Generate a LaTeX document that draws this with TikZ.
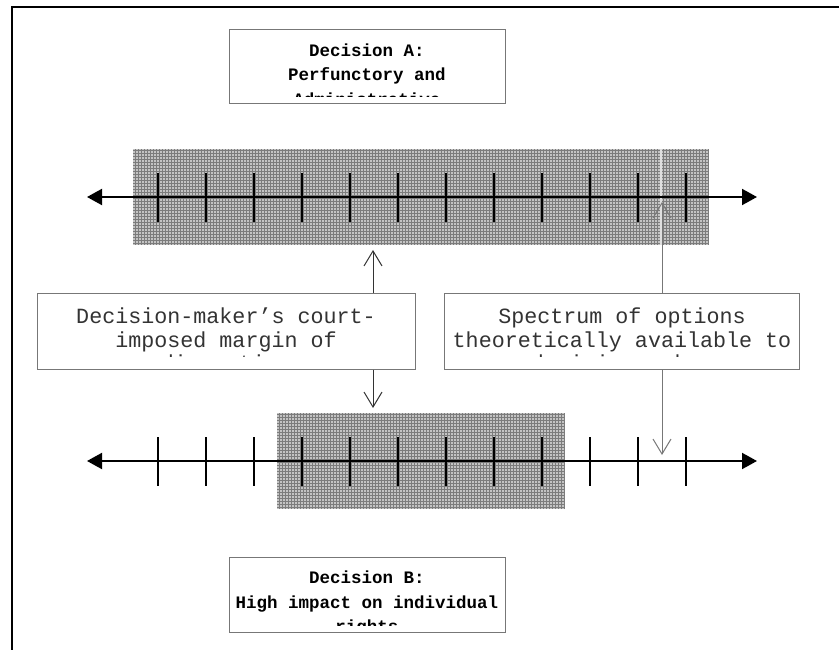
\documentclass[tikz,border=0pt]{standalone}
\usepackage{fontspec}
\setmonofont{Liberation Mono}
\usetikzlibrary{arrows.meta}

\definecolor{boxgray}{HTML}{777777}
\definecolor{textgray}{HTML}{333333}
\definecolor{shadefill}{HTML}{C4C4C4}
\definecolor{shadeline}{HTML}{7C7C7C}

\tikzset{
  frame/.style = {line width = 2.5pt, black},
  panel/.style = {draw = boxgray, line width = 1pt, fill = white, inner sep = 0pt},
  titletext/.style = {font = \ttfamily\bfseries\fontsize{17.5}{24.5}\selectfont, align = center, inner sep = 0pt, anchor = base},
  notetext/.style = {font = \ttfamily\fontsize{21.7}{23.5}\selectfont, text = textgray, align = center, inner sep = 0pt, anchor = base},
  shade/.style = {fill = shadefill},
  gridline/.style = {draw = shadeline, line width = .55pt},
  axis/.style = {line width = 2pt, {Triangle[length=15pt,width=16pt]}-{Triangle[length=15pt,width=16pt]}},
  tick/.style = {line width = 2pt},
  pointer/.style = {line width = 1pt, -{Straight Barb[length=15pt,width=18pt,line width=1pt]}}
}

\begin{document}
\begin{tikzpicture}[x = 1pt, y = -1pt]
  \useasboundingbox (0,0) rectangle (839,650);

  % frame
  \draw[frame] (12,650) -- (12,7) -- (839,7);

  % shaded margins
  \fill[shade] (133,149) rectangle (709,245);
  \draw[gridline, step = 3pt] (133,149) grid (709,245);
  \draw[white!75!gray, line width = 1.2pt] (661,149) -- (661,245);
  \fill[shade] (277,413) rectangle (565,509);
  \draw[gridline, step = 3pt] (277,413) grid (565,509);

  % option lines
  \coordinate (upw) at (87,197);
  \coordinate (upe) at (757,197);
  \coordinate (loww) at (87,461);
  \coordinate (lowe) at (757,461);
  \draw[axis] (upw) -- (upe);
  \draw[axis] (loww) -- (lowe);
  \foreach \i in {0,...,11} {
    \draw[tick] (158+48*\i,173) -- ++(0,49);
    \draw[tick] (158+48*\i,437) -- ++(0,49);
  }

  % decision boxes
  \node[panel, minimum width = 276pt, minimum height = 74pt] (boxA) at (367,67) {};
  \begin{scope}
    \clip (229,30) rectangle (505,97);
    \node[titletext] (titleA) at (367,105.5) {Decision A:\\Perfunctory and\\Administrative};
  \end{scope}

  \node[panel, minimum width = 276pt, minimum height = 75pt] (boxB) at (367,594.5) {};
  \begin{scope}
    \clip (229,557) rectangle (505,625);
    \node[titletext] (titleB) at (367,632.5) {Decision B:\\High impact on individual\\rights};
  \end{scope}

  % notes
  \node[panel, minimum width = 378pt, minimum height = 76pt] (boxL) at (226,331) {};
  \begin{scope}
    \clip (37,293) rectangle (415,356);
    \node[notetext] (noteL) at (226,370.5) {Decision-maker’s court-\\imposed margin of\\discretion};
  \end{scope}

  \node[panel, minimum width = 355pt, minimum height = 76pt] (boxR) at (622,331) {};
  \begin{scope}
    \clip (445,293) rectangle (800,356);
    \node[notetext] (noteR) at (622,370.5) {Spectrum of options\\theoretically available to\\decision-maker};
  \end{scope}

  % pointers
  \coordinate (tipLu) at (373,250);
  \coordinate (tipLd) at (373,408);
  \coordinate (tipRu) at (662,202);
  \coordinate (tipRd) at (662,455);
  \draw[pointer, draw = textgray] (boxL.north -| tipLu) -- (tipLu);
  \draw[pointer, draw = textgray] (boxL.south -| tipLd) -- (tipLd);
  \draw[pointer, draw = boxgray] (boxR.north -| tipRu) -- (tipRu);
  \draw[pointer, draw = boxgray] (boxR.south -| tipRd) -- (tipRd);
\end{tikzpicture}
\end{document}
